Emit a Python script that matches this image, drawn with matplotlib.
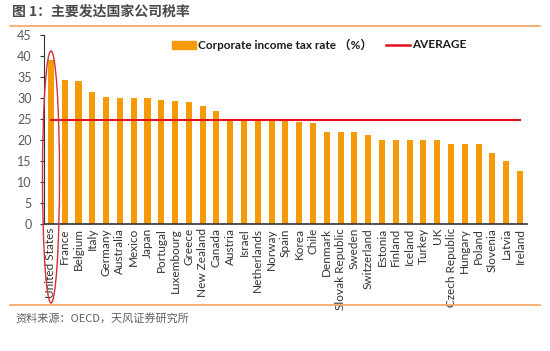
import matplotlib
matplotlib.use("Agg")
import matplotlib.pyplot as plt
from matplotlib.patches import Ellipse, Rectangle
from matplotlib.lines import Line2D

countries = ["United States", "France", "Belgium", "Italy", "Germany", "Australia", "Mexico",
             "Japan", "Portugal", "Luxembourg", "Greece", "New Zealand", "Canada", "Austria",
             "Israel", "Netherlands", "Norway", "Spain", "Korea", "Chile", "Denmark",
             "Slovak Republic", "Sweden", "Switzerland", "Estonia", "Finland", "Iceland",
             "Turkey", "UK", "Czech Republic", "Hungary", "Poland", "Slovenia", "Latvia", "Ireland"]
rates = [39.1, 34.4, 34.0, 31.4, 30.2, 30.0, 30.0, 30.0, 29.5, 29.2, 29.0, 28.0, 26.8, 25.0,
         25.0, 25.0, 25.0, 25.0, 24.2, 24.0, 22.0, 22.0, 22.0, 21.2, 20.0, 20.0, 20.0,
         20.0, 20.0, 19.0, 19.0, 19.0, 17.0, 15.0, 12.5]
average = 24.7
yticks = list(range(0, 50, 5))

title = "图 1：主要发达国家公司税率"
source = "资料来源：OECD，天风证券研究所"
bar_label = "Corporate income tax rate （%）"
avg_label = "AVERAGE"

plt.rcParams['font.family'] = ['Lato', 'Noto Sans CJK SC', 'DejaVu Sans']

orange = "#F59B0A"
red = "#E8101E"
gray = "#595959"
line_orange = "#F4A460"

W, H = 550, 351
def fx(px):
    return px / W
def fy(py):
    return 1 - py / H

fig = plt.figure(figsize=(5.5, 3.51), dpi=100)
fig.patch.set_facecolor("white")
ax = fig.add_axes([0.08, 0.362, 0.878, 0.538])

x = list(range(len(countries)))
ax.bar(x, rates, width=0.44, color=orange, zorder=2)
ax.plot([x[0], x[-1]], [average, average], color=red, lw=1.5, zorder=3)

ax.set_xlim(-0.5, len(countries) - 0.5)
ax.set_ylim(0, 45)
ax.set_yticks(yticks)
ax.set_yticklabels([str(v) for v in yticks], color=gray, fontsize=9)
ax.set_xticks(x)
ax.set_xticklabels(countries, rotation=90, fontsize=8.5, color="#333333")
ax.tick_params(axis='x', length=0, pad=3)
ax.tick_params(axis='y', length=3, width=0.8, color="#333333", direction='out', pad=6)
for s in ["top", "right"]:
    ax.spines[s].set_visible(False)
ax.spines["left"].set_color("#333333")
ax.spines["bottom"].set_color("#333333")
ax.spines["left"].set_linewidth(0.8)
ax.spines["bottom"].set_linewidth(1.2)

# Legend (placed to match reference)
fig.add_artist(Rectangle((fx(172), fy(49)), fx(196) - fx(172), fy(41) - fy(49),
                         transform=fig.transFigure, color=orange))
fig.text(fx(198), fy(45), bar_label, fontsize=8.5, weight='bold', color="#1a1a1a",
         va="center", ha="left")
fig.add_artist(Line2D([fx(386), fx(410)], [fy(45), fy(45)], transform=fig.transFigure,
                      color=red, lw=1.8))
fig.text(fx(412), fy(45), avg_label, fontsize=8.5, weight='bold', color="#1a1a1a",
         va="center", ha="left")

# Ellipse highlighting United States
ell = Ellipse((fx(51), fy(177)), width=17 / W, height=252 / H,
              transform=fig.transFigure, fill=False, edgecolor="#D0303A", lw=1.0, zorder=5)
fig.add_artist(ell)

# Title and decoration lines
fig.text(fx(12), fy(12), title, fontsize=10, color="#4a4a4a", va="center", ha="left",
         family=['Noto Sans CJK SC', 'DejaVu Sans'], weight='bold')
fig.add_artist(Line2D([fx(10), fx(540)], [fy(26), fy(26)],
                      transform=fig.transFigure, color=line_orange, lw=1.2))
fig.add_artist(Line2D([fx(10), fx(540)], [fy(305), fy(305)],
                      transform=fig.transFigure, color=line_orange, lw=1.2))
fig.text(fx(15), fy(318), source, fontsize=8, color="#606060", va="center", ha="left",
         family=['Noto Sans CJK SC', 'DejaVu Sans'])

fig.savefig("out.png", dpi=100)
